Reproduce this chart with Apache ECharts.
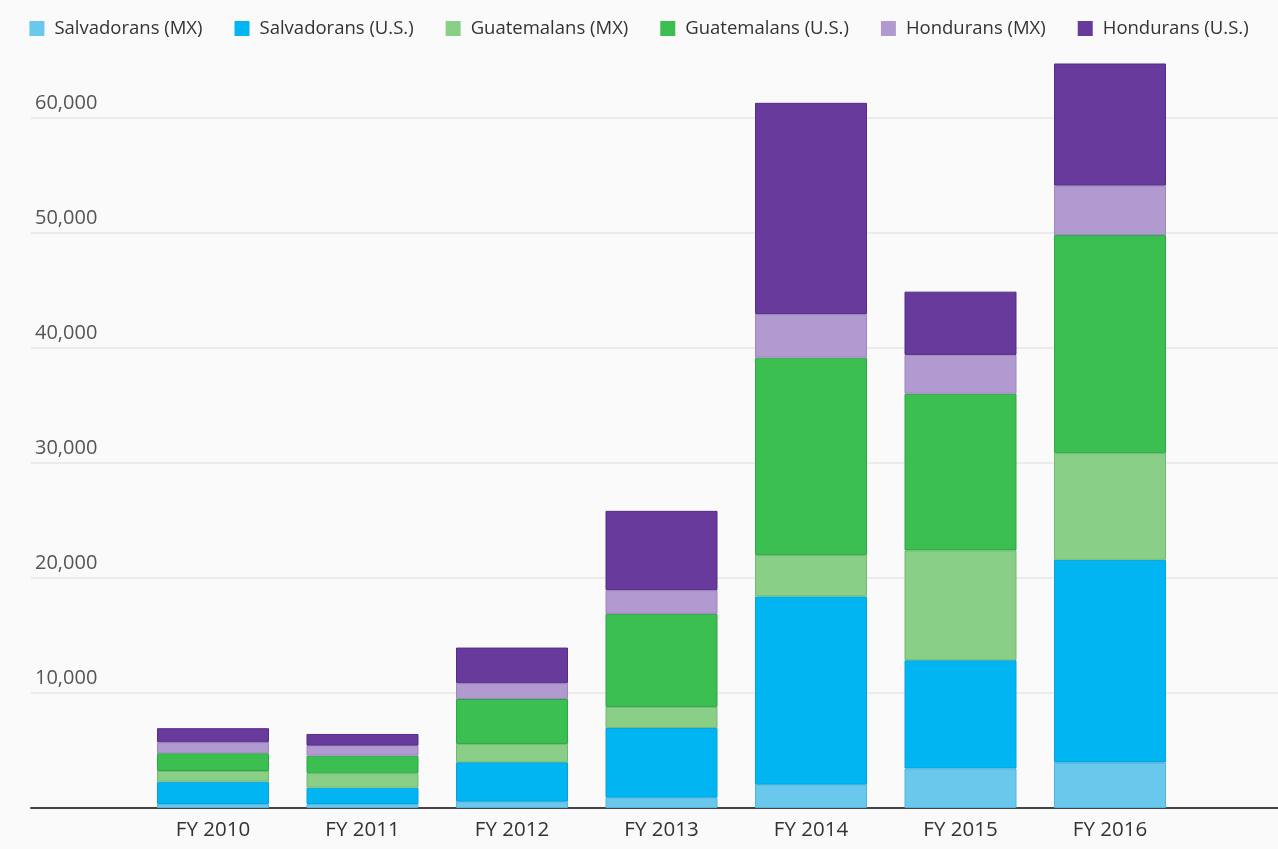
<!DOCTYPE html>
<html><head><meta charset="utf-8">
<script src="https://cdn.jsdelivr.net/npm/echarts@6/dist/echarts.min.js"></script>
<style>html,body{margin:0;padding:0;background:#fafafa}#c{width:1278px;height:849px}</style>
</head><body><div id="c"></div><script>
// ---- data ----
const categories = ['FY 2010', 'FY 2011', 'FY 2012', 'FY 2013', 'FY 2014', 'FY 2015', 'FY 2016'];
const seriesNames = ['Salvadorans (MX)', 'Salvadorans (U.S.)', 'Guatemalans (MX)', 'Guatemalans (U.S.)', 'Hondurans (MX)', 'Hondurans (U.S.)'];
const salvadoransMX = [350, 350, 550, 900, 2030, 3440, 3950];
const salvadoransUS = [1940, 1420, 3430, 6060, 16370, 9410, 17630];
const guatemalansMX = [930, 1250, 1590, 1830, 3590, 9550, 9270];
const guatemalansUS = [1540, 1530, 3910, 8090, 17170, 13620, 18970];
const honduransMX = [960, 870, 1370, 2060, 3790, 3380, 4300];
const honduransUS = [1220, 1020, 3100, 6900, 18370, 5500, 10620];
const yTickValues = [0, 10000, 20000, 30000, 40000, 50000, 60000];

// ---- styling ----
const colors = ['#6ac8ec', '#00b5f1', '#89cf87', '#3bbf50', '#b09ad0', '#673a9b'];
const borders = ['#52b4da', '#06a2d8', '#72ba70', '#2fa544', '#9c86bd', '#552c88'];
const FONT = 'Open Sans';
const values = [salvadoransMX, salvadoransUS, guatemalansMX, guatemalansUS, honduransMX, honduransUS];

const chart = echarts.init(document.getElementById('c'), null, {renderer: 'canvas'});
chart.setOption({
  backgroundColor: '#fafafa',
  animation: false,
  legend: {
    data: seriesNames,
    top: 14,
    left: 'center',
    icon: 'rect',
    itemWidth: 15,
    itemHeight: 15,
    itemGap: 32,
    itemStyle: {borderWidth: 0},
    textStyle: {fontFamily: FONT, fontSize: 18.5, color: '#333', padding: [0, 0, 0, 5]}
  },
  grid: [
    {left: 31, right: 0, top: 118, bottom: 41},
    {left: 138.25, right: 93.25, top: 3, bottom: 41}
  ],
  xAxis: [
    {gridIndex: 0, type: 'value', min: 0, max: 1, axisLabel: {show: false}, axisTick: {show: false},
     splitLine: {show: false}, axisLine: {show: true, lineStyle: {color: '#444', width: 2}}},
    {gridIndex: 1, type: 'category', data: categories, axisLine: {show: false}, axisTick: {show: false},
     axisLabel: {color: '#333', fontFamily: FONT, fontSize: 20.5, margin: 12}}
  ],
  yAxis: [
    {gridIndex: 0, type: 'value', min: yTickValues[0], max: yTickValues[yTickValues.length - 1],
     interval: yTickValues[1] - yTickValues[0],
     axisLine: {show: false}, axisTick: {show: false},
     splitLine: {show: true, lineStyle: {color: '#e6e6e6', width: 1.5}},
     axisLabel: {inside: true, verticalAlign: 'bottom', align: 'left', margin: 4, padding: [0, 0, 5, 0],
       color: '#555', fontFamily: FONT, fontSize: 20,
       formatter: v => v === 0 ? '' : v.toLocaleString('en-US')}},
    {gridIndex: 1, type: 'value', min: 0, max: 70000, show: false, splitLine: {show: false}}
  ],
  series: seriesNames.map((name, i) => ({
    name: name,
    type: 'bar',
    stack: 'total',
    xAxisIndex: 1,
    yAxisIndex: 1,
    barWidth: 112,
    data: values[i],
    itemStyle: {color: colors[i], borderColor: borders[i], borderWidth: 1}
  }))
});
</script></body></html>
